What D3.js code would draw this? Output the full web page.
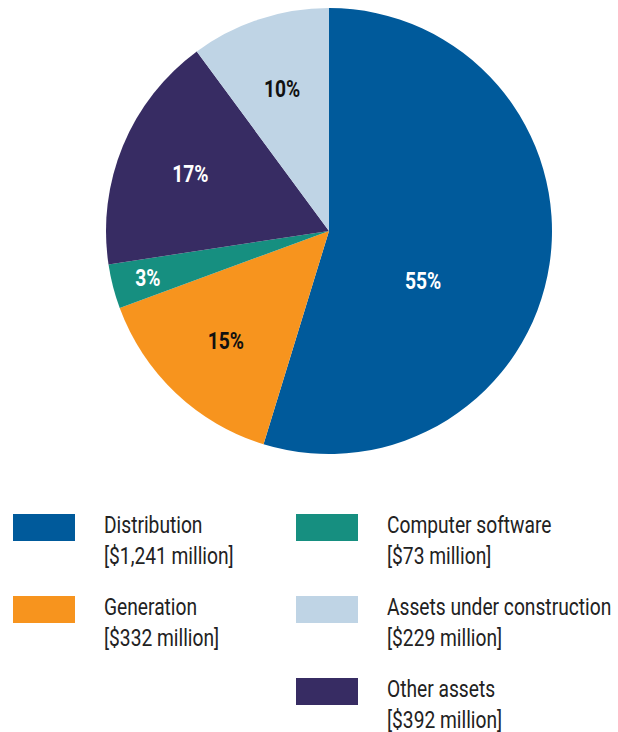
<!DOCTYPE html>
<html>
<head>
<meta charset="utf-8">
<script src="https://d3js.org/d3.v7.min.js"></script>
<style>
  body { margin: 0; background: #fff; }
  svg text { font-family: "Roboto", "Noto Sans", sans-serif; }
</style>
</head>
<body>
<svg id="chart" width="618" height="732"></svg>
<script>
// data
const categories = ["Distribution", "Generation", "Computer software", "Other assets", "Assets under construction"];
const values = [1241, 332, 73, 392, 229];
const colors = ["#005a9b", "#f7941e", "#168f80", "#372c63", "#bfd4e5"];
const labelColors = ["#fff", "#111", "#fff", "#fff", "#111"];

// legend order (two columns)
const legendOrder = ["Distribution", "Generation", "Computer software", "Assets under construction", "Other assets"];

// label placement tweaks (angle deg from top, radius) for slices that aren't on the default ring
const labelTweak = {
  "Distribution": { angle: 117.5, r: 106 },
  "Computer software": { r: 187 }
};

const svg = d3.select("#chart");
const cx = 329, cy = 231, R = 223;
const total = d3.sum(values);
const squeeze = 0.8; // the original face is a condensed one

const pie = d3.pie().sort(null).value(d => d.value);
const arc = d3.arc().innerRadius(0).outerRadius(R);

const data = categories.map((c, i) => ({ name: c, value: values[i], color: colors[i], lc: labelColors[i] }));
const arcs = pie(data);

const g = svg.append("g").attr("transform", `translate(${cx},${cy})`);

g.selectAll("path")
  .data(arcs)
  .enter().append("path")
  .attr("d", arc)
  .attr("fill", d => d.data.color);

g.selectAll("text")
  .data(arcs)
  .enter().append("text")
  .attr("transform", d => {
    const t = labelTweak[d.data.name] || {};
    const a = t.angle != null ? t.angle * Math.PI / 180 : (d.startAngle + d.endAngle) / 2;
    const r = t.r || 150;
    return `translate(${r * Math.sin(a)},${-r * Math.cos(a)}) scale(${squeeze},1)`;
  })
  .attr("text-anchor", "middle")
  .attr("dy", "0.36em")
  .attr("fill", d => d.data.lc)
  .style("font-size", "24px")
  .style("font-weight", "700")
  .text(d => Math.round(d.value / total * 100) + "%");

// legend
const leg = svg.append("g");
const colX = [13, 296], rowY = [514, 596, 678];
legendOrder.forEach((name, k) => {
  const i = categories.indexOf(name);
  const col = k < 2 ? 0 : 1;
  const row = k < 2 ? k : k - 2;
  const x = colX[col], y = rowY[row];
  const item = leg.append("g").attr("transform", `translate(${x},${y})`);
  item.append("rect").attr("width", 62).attr("height", 27).attr("fill", colors[i]);
  const t = item.append("g").attr("transform", `translate(91,0) scale(${squeeze},1)`)
    .append("text")
    .attr("fill", "#222")
    .style("font-size", "24px");
  t.append("tspan").attr("x", 0).attr("y", 19).text(name);
  t.append("tspan").attr("x", 0).attr("y", 50).text(`[$${d3.format(",")(values[i])} million]`);
});
</script>
</body>
</html>
